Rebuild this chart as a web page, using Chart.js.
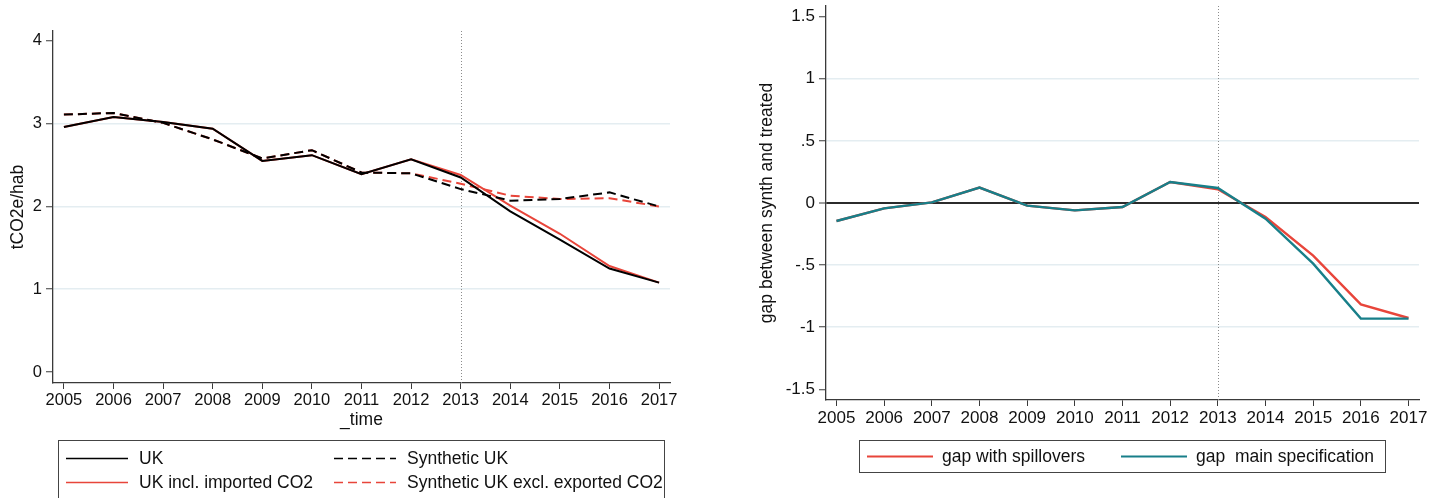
<!DOCTYPE html>
<html>
<head>
<meta charset="utf-8">
<title>UK consumption CO2 – synthetic control</title>
<script src="https://cdn.jsdelivr.net/npm/chart.js@4.4.1/dist/chart.umd.min.js"></script>
<style>
  html, body { margin: 0; padding: 0; background: #fff; width: 1442px; height: 498px; overflow: hidden; }
  .panel { position: absolute; top: 0; height: 498px; }
  #left  { left: 0;     width: 700px; }
  #right { left: 720px; width: 722px; }
</style>
</head>
<body>
<div class="panel" id="left"><canvas id="levels"></canvas></div>
<div class="panel" id="right"><canvas id="gaps"></canvas></div>
<script>
// ---- data -------------------------------------------------------------
const years = [2005, 2006, 2007, 2008, 2009, 2010, 2011, 2012, 2013, 2014, 2015, 2016, 2017];

// tCO2e per inhabitant
const ukActual            = [2.96, 3.08, 3.02, 2.94, 2.55, 2.62, 2.39, 2.57, 2.35, 1.94, 1.60, 1.25, 1.08];
const ukSynthetic         = [3.11, 3.13, 3.01, 2.81, 2.58, 2.68, 2.41, 2.40, 2.21, 2.07, 2.09, 2.17, 2.00];
const ukInclImported      = [2.96, 3.08, 3.02, 2.94, 2.55, 2.62, 2.39, 2.57, 2.38, 2.01, 1.67, 1.28, 1.08];
const ukSyntheticExclExp  = [3.11, 3.13, 3.01, 2.81, 2.58, 2.68, 2.41, 2.40, 2.275, 2.13, 2.09, 2.10, 2.00];

// gap between synthetic and treated unit
const gapWithSpillovers   = [-0.145, -0.043, 0.005, 0.124, -0.021, -0.059, -0.032, 0.169, 0.110, -0.113, -0.424, -0.816, -0.926];
const gapMainSpec         = [-0.145, -0.043, 0.005, 0.124, -0.021, -0.059, -0.032, 0.169, 0.121, -0.126, -0.488, -0.931, -0.931];

const levelTicks = [0, 1, 2, 3, 4];
const gapTicks   = [-1.5, -1, -0.5, 0, 0.5, 1, 1.5];
const treatmentYear = 2013;

// ---- styling ----------------------------------------------------------
const FONT = '"Liberation Sans", Arial, Helvetica, sans-serif';
const INK = '#111111';
const AXIS = '#3a3a3a';
const GRID = '#e4edf1';
const RED = '#e8453a';
const TEAL = '#187f89';

Chart.defaults.font.family = FONT;
Chart.defaults.color = INK;

const pts = vals => years.map((yr, i) => ({ x: yr, y: vals[i] }));

// dotted reference line at the treatment year
const treatLine = {
  id: 'treatLine',
  beforeDatasetsDraw(chart) {
    const { ctx, chartArea } = chart;
    const x = Math.round(chart.scales.x.getPixelForValue(treatmentYear)) + 0.5;
    ctx.save();
    ctx.strokeStyle = '#8c8c8c';
    ctx.lineWidth = 1;
    ctx.setLineDash([1, 2]);
    ctx.beginPath();
    ctx.moveTo(x, chartArea.top);
    ctx.lineTo(x, chartArea.bottom);
    ctx.stroke();
    ctx.restore();
  }
};

// framed legend below the plot, items placed on a grid
const boxLegend = {
  id: 'boxLegend',
  afterDraw(chart, args, opts) {
    const { ctx } = chart;
    ctx.save();
    ctx.strokeStyle = '#444';
    ctx.lineWidth = 1;
    const b = opts.box;
    ctx.strokeRect(b.x + 0.5, b.y + 0.5, b.w, b.h);
    ctx.font = opts.fontSize + 'px ' + FONT;
    ctx.textBaseline = 'middle';
    ctx.fillStyle = INK;
    chart.data.datasets.forEach((ds, i) => {
      const it = opts.items[i];
      ctx.save();
      ctx.strokeStyle = ds.borderColor;
      ctx.lineWidth = opts.sampleWidth;
      ctx.setLineDash(ds.borderDash || []);
      ctx.beginPath();
      ctx.moveTo(it.x, it.y + 0.5);
      ctx.lineTo(it.x + opts.sampleLen, it.y + 0.5);
      ctx.stroke();
      ctx.restore();
      ctx.fillText(ds.label, it.x + opts.sampleLen + opts.gap, it.y + 1);
    });
    ctx.restore();
  }
};

function fixWidth(w) {
  return s => { s.width = w; s.paddingTop = s.paddingBottom = 0; };
}
function fixHeight(h) {
  return s => { s.height = h; s.paddingLeft = s.paddingRight = 0; };
}
function yearAxis(height, title, size) {
  return {
    type: 'linear',
    position: 'bottom',
    min: 2004.78,
    max: 2017.22,
    afterBuildTicks: s => { s.ticks = years.map(v => ({ value: v })); },
    afterFit: fixHeight(height),
    ticks: { font: { size: size }, color: INK, padding: 2, maxRotation: 0, autoSkip: false,
             callback: v => String(v) },
    grid: { drawOnChartArea: false, tickLength: 6, tickColor: AXIS, tickWidth: 1 },
    border: { display: true, color: AXIS, width: 1.3 },
    title: title ? { display: true, text: title, font: { size: 17.5 }, color: INK, padding: 0 } : { display: false }
  };
}

// ---- left panel: emission levels ---------------------------------------
new Chart(document.getElementById('levels'), {
  type: 'line',
  data: {
    datasets: [
      { label: 'UK', data: pts(ukActual), borderColor: '#000', borderWidth: 2 },
      { label: 'Synthetic UK', data: pts(ukSynthetic), borderColor: '#000', borderWidth: 2, borderDash: [9, 5] },
      { label: 'UK incl. imported CO2', data: pts(ukInclImported), borderColor: RED, borderWidth: 2 },
      { label: 'Synthetic UK excl. exported CO2', data: pts(ukSyntheticExclExp), borderColor: RED, borderWidth: 2, borderDash: [9, 5] }
    ]
  },
  options: {
    responsive: true,
    maintainAspectRatio: false,
    animation: false,
    devicePixelRatio: 1,
    layout: { padding: { top: 31, right: 30, bottom: 67, left: 0 } },
    elements: { point: { radius: 0 }, line: { tension: 0 } },
    scales: {
      x: yearAxis(48, '_time', 16.5),
      y: {
        min: -0.133,
        max: 4.12,
        afterBuildTicks: s => { s.ticks = levelTicks.map(v => ({ value: v })); },
        afterFit: fixWidth(53),
        ticks: { font: { size: 16.5 }, color: INK, padding: 4, callback: v => String(v) },
        grid: {
          color: c => (c.tick && c.tick.value > levelTicks[0] && c.tick.value < levelTicks[levelTicks.length - 1]) ? GRID : 'rgba(0,0,0,0)',
          lineWidth: 1.5, tickLength: 7, tickColor: AXIS, tickWidth: 1
        },
        border: { display: true, color: AXIS, width: 1.3 },
        title: { display: true, text: 'tCO2e/hab', font: { size: 17.5 }, color: INK, padding: { top: 8, bottom: 0 } }
      }
    },
    plugins: {
      legend: { display: false },
      tooltip: { enabled: false },
      boxLegend: {
        box: { x: 58, y: 440, w: 606, h: 62 },
        fontSize: 17.5,
        sampleLen: 62,
        sampleWidth: 1.6,
        gap: 11,
        items: [ { x: 66, y: 458 }, { x: 334, y: 458 }, { x: 66, y: 482 }, { x: 334, y: 482 } ]
      }
    }
  },
  plugins: [treatLine, boxLegend]
});

// ---- right panel: gaps -------------------------------------------------
const fmtGap = v => (v === 0 ? '0' : String(v).replace('0.', '.'));

new Chart(document.getElementById('gaps'), {
  type: 'line',
  data: {
    datasets: [
      { label: 'gap with spillovers', data: pts(gapWithSpillovers), borderColor: RED, borderWidth: 2.4, order: 1 },
      { label: 'gap  main specification', data: pts(gapMainSpec), borderColor: TEAL, borderWidth: 2.4, order: 0 }
    ]
  },
  options: {
    responsive: true,
    maintainAspectRatio: false,
    animation: false,
    devicePixelRatio: 1,
    layout: { padding: { top: 6, right: 23, bottom: 68, left: 0 } },
    elements: { point: { radius: 0 }, line: { tension: 0 } },
    scales: {
      x: yearAxis(30, null, 17),
      y: {
        min: -1.586,
        max: 1.586,
        afterBuildTicks: s => { s.ticks = gapTicks.map(v => ({ value: v })); },
        afterFit: fixWidth(106),
        ticks: { font: { size: 17 }, color: INK, padding: 4, callback: fmtGap },
        grid: {
          color: c => {
            if (!c.tick) return 'rgba(0,0,0,0)';
            const v = c.tick.value;
            if (v === 0) return '#2b2b2b';
            return (v > gapTicks[0] && v < gapTicks[gapTicks.length - 1]) ? GRID : 'rgba(0,0,0,0)';
          },
          lineWidth: c => (c.tick && c.tick.value === 0 ? 2 : 1.5),
          tickLength: 7, tickColor: AXIS, tickWidth: 1
        },
        border: { display: true, color: AXIS, width: 1.3 },
        title: { display: true, text: 'gap between synth and treated', font: { size: 17.5 }, color: INK, padding: { top: 36.5, bottom: 0 } }
      }
    },
    plugins: {
      legend: { display: false },
      tooltip: { enabled: false },
      boxLegend: {
        box: { x: 139, y: 440, w: 526, h: 32 },
        fontSize: 17.5,
        sampleLen: 66,
        sampleWidth: 2,
        gap: 9,
        items: [ { x: 147, y: 456 }, { x: 401, y: 456 } ]
      }
    }
  },
  plugins: [treatLine, boxLegend]
});
</script>
</body>
</html>
